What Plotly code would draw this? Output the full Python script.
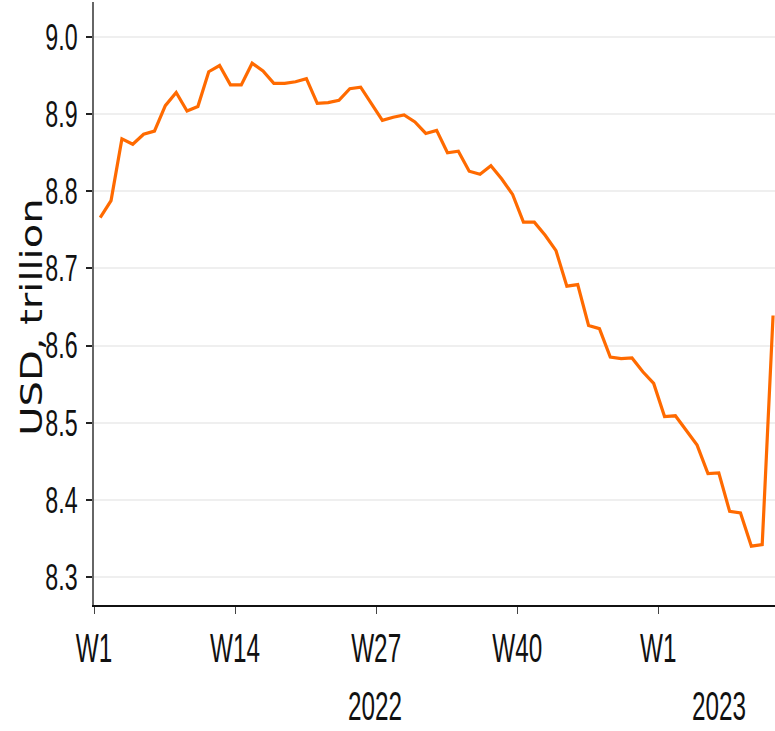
import pandas as pd
import plotly.graph_objects as go

# Weekly observations, 2022 W1 .. 2023 W11 (USD, trillion)
weeks = pd.date_range("2022-01-07", periods=63, freq="7D")
values = [
    8.766, 8.788, 8.868, 8.861, 8.874, 8.878, 8.911, 8.928, 8.904, 8.910,
    8.955, 8.963, 8.938, 8.938, 8.966, 8.956, 8.940, 8.940, 8.942, 8.946,
    8.914, 8.915, 8.918, 8.933, 8.935, 8.913, 8.892, 8.896, 8.899, 8.890,
    8.875, 8.879, 8.850, 8.852, 8.826, 8.822, 8.833, 8.816, 8.796, 8.760,
    8.760, 8.743, 8.723, 8.677, 8.679, 8.626, 8.622, 8.585, 8.583, 8.584,
    8.566, 8.551, 8.508, 8.509, 8.490, 8.471, 8.434, 8.435, 8.385, 8.383,
    8.340, 8.342, 8.639,
]
tick_dates = ["2022-01-03", "2022-04-04", "2022-07-04", "2022-10-03", "2023-01-02"]
tick_labels = ["W1", "W14", "W27", "W40", "W1"]
y_ticks = [8.3, 8.4, 8.5, 8.6, 8.7, 8.8, 8.9, 9.0]
y_tick_labels = ["8.3", "8.4", "8.5", "8.6", "8.7", "8.8", "8.9", "9.0"]
years = ["2022", "2023"]
year_pos = ["2022-07-03", "2023-02-10"]

TICKFONT = "Liberation Sans, Arial, sans-serif"

fig = go.Figure()
fig.add_trace(go.Scatter(
    x=weeks, y=values, mode="lines",
    line=dict(color="#ff6a00", width=3.2),
    hoverinfo="x+y",
))

fig.update_layout(
    width=775, height=731,
    margin=dict(l=94, r=0, t=2, b=126),
    paper_bgcolor="white", plot_bgcolor="white",
    showlegend=False,
    xaxis=dict(
        type="date",
        range=["2022-01-03", "2023-03-18 06:00"],
        tickmode="array", tickvals=tick_dates, ticktext=tick_labels,
        ticks="outside", ticklen=7, tickwidth=1, tickcolor="#444",
        showline=True, linecolor="#111", linewidth=2,
        showgrid=False, zeroline=False,
        tickfont=dict(family=TICKFONT, size=27, color="#111"),
        ticklabelstandoff=11,
    ),
    yaxis=dict(
        range=[8.2637, 9.0454],
        tickmode="array", tickvals=y_ticks, ticktext=y_tick_labels,
        ticks="outside", ticklen=6, tickwidth=2, tickcolor="#222",
        showline=True, linecolor="#666", linewidth=2,
        showgrid=True, gridcolor="#efefef", gridwidth=2,
        zeroline=False,
        tickfont=dict(family=TICKFONT, size=27, color="#111"),
        ticklabelstandoff=3,
    ),
)

for yr, pos in zip(years, year_pos):
    fig.add_annotation(
        x=pos, xref="x", y=-0.1692, yref="paper",
        text=yr, showarrow=False, xanchor="center", yanchor="middle",
        font=dict(family=TICKFONT, size=27, color="#111"),
    )

fig.add_annotation(
    x=-0.0925, xref="paper", y=0.4776, yref="paper",
    text="USD, trillion", textangle=-90, showarrow=False,
    xanchor="center", yanchor="middle",
    font=dict(family="DejaVu Sans", size=31, color="#111"),
)

# The reference's lettering is tall and narrow; stretch the rendered text glyphs
# in screen space about each label's own centre (or right edge for y ticks).
post = """
document.body.style.margin = '0';
var gd = document.getElementById('{plot_id}');
function stretch(list, sx, sy, anchor) {
  list.forEach(function(t) {
    var b = t.getBBox();
    var cx = anchor === 'right' ? b.x + b.width : b.x + b.width / 2;
    var cy = b.y + b.height / 2;
    var tr = t.getAttribute('transform') || '';
    t.setAttribute('transform', tr + ' translate(' + cx + ',' + cy + ') scale(' + sx + ',' + sy +
                   ') translate(' + (-cx) + ',' + (-cy) + ')');
  });
}
stretch(Array.from(gd.querySelectorAll('.ytick text')), 0.86, 1.38, 'right');
stretch(Array.from(gd.querySelectorAll('.xtick text')), 0.9, 1.5, 'center');
var annText = Array.from(gd.querySelectorAll('g.annotation text.annotation-text'));
stretch(annText.slice(0, 2), 0.9, 1.5, 'center');
var ann = Array.from(gd.querySelectorAll('g.annotation'));
stretch(ann.slice(2), 1.0, 1.29, 'center');
"""

fig.write_html("out.html", post_script=post, config={"displayModeBar": False})
